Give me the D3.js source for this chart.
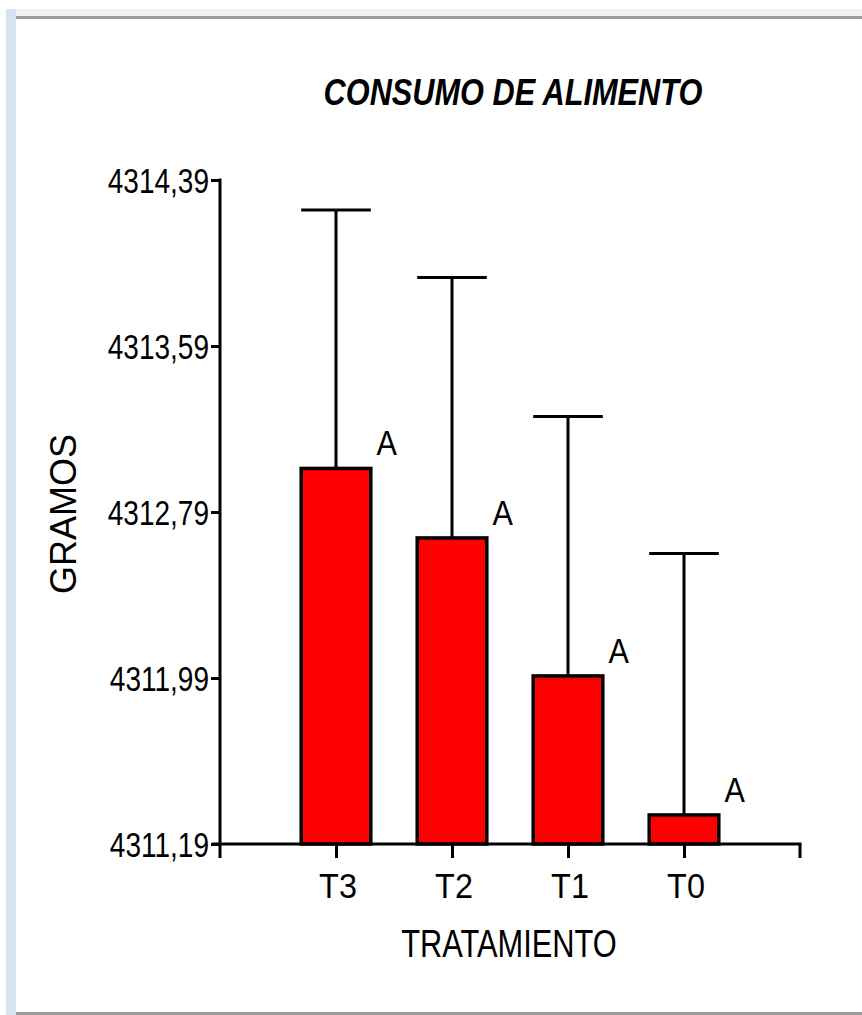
<!DOCTYPE html>
<html>
<head>
<meta charset="utf-8">
<script src="https://cdn.jsdelivr.net/npm/d3@7"></script>
<style>
  body { margin: 0; background: #fff; }
  svg { display: block; }
  text { font-family: "Liberation Sans Narrow", "Liberation Sans", Arial, sans-serif; fill: #000; }
</style>
</head>
<body>
<svg id="chart" width="862" height="1015"></svg>
<script>
// data
var categories = ['T3', 'T2', 'T1', 'T0'];
var means = [4313.00, 4312.665, 4312.00, 4311.33];
var errors = [1.245, 1.255, 1.25, 1.26];
var groupLetters = ['A', 'A', 'A', 'A'];
var yTicks = [4311.19, 4311.99, 4312.79, 4313.59, 4314.39];

var svg = d3.select('#chart');
var W = 862, H = 1015;

// frame of the screenshot
svg.append('rect').attr('x', 6).attr('y', 9).attr('width', 10).attr('height', H - 9).attr('fill', '#d7e3f1');
svg.append('rect').attr('x', 16).attr('y', 9).attr('width', W - 16).attr('height', 7).attr('fill', '#f0f0f0');
svg.append('rect').attr('x', 16).attr('y', 16).attr('width', W - 16).attr('height', 3).attr('fill', '#9b9b9b');
svg.append('rect').attr('x', 16).attr('y', 1012).attr('width', W - 16).attr('height', 3).attr('fill', '#9b9b9b');

// narrow font present? otherwise squeeze the regular one
var probe = svg.append('text').style('font-family', '"Liberation Sans Narrow", "Liberation Sans"').style('font-size', '40px').text('MMMMMM');
var wNarrow = probe.node().getComputedTextLength();
probe.style('font-family', '"Liberation Sans"');
var wReg = probe.node().getComputedTextLength();
probe.remove();
var narrowRatio = wNarrow / wReg;   // ~0.82 if the narrow face exists, 1 if not

// sx = wanted width relative to the regular face
function addText(g, x, y, str, size, anchor, sx, extra) {
    var s = sx / narrowRatio;
    return g.append('text')
        .attr('transform', 'translate(' + x + ',' + y + ')' + (extra || '') + ' scale(' + s + ',1)')
        .attr('text-anchor', anchor)
        .style('font-size', size + 'px')
        .text(str);
}

var x0 = 220, x1 = 800, yTop = 180, yBot = 844;

var x = d3.scalePoint().domain(categories).range([x0, x1]).padding(1);
var y = d3.scaleLinear().domain([yTicks[0], yTicks[yTicks.length - 1]]).range([yBot, yTop]);
var barW = x.step() * 0.6;

var g = svg.append('g');

// error bars (upper only)
g.selectAll('.err').data(categories).enter().append('path')
    .attr('class', 'err')
    .attr('fill', 'none').attr('stroke', '#000').attr('stroke-width', 3)
    .attr('d', function (d, i) {
        var cx = x(d), top = y(means[i] + errors[i]);
        return 'M' + cx + ',' + y(means[i]) + 'V' + top +
            'M' + (cx - barW / 2) + ',' + top + 'H' + (cx + barW / 2);
    });

// bars
g.selectAll('.bar').data(categories).enter().append('rect')
    .attr('class', 'bar')
    .attr('x', function (d) { return x(d) - barW / 2; })
    .attr('y', function (d, i) { return y(means[i]); })
    .attr('width', barW)
    .attr('height', function (d, i) { return yBot - y(means[i]); })
    .attr('fill', '#ff0000').attr('stroke', '#000').attr('stroke-width', 3.5);

// letters
categories.forEach(function (d, i) {
    addText(g, x(d) + barW / 2 + 16, y(means[i]) - 13, groupLetters[i], 36, 'middle', 0.85);
});

// y axis
var yAxis = d3.axisLeft(y).tickValues(yTicks).tickSize(9).tickSizeOuter(0);
var ya = svg.append('g').attr('transform', 'translate(' + x0 + ',0)').call(yAxis);
ya.select('.domain').attr('stroke-width', 3).attr('d', 'M0,' + (yTop - 1.5) + 'V' + yBot);
ya.selectAll('.tick line').attr('stroke-width', 3);
ya.selectAll('.tick text').remove();
yTicks.forEach(function (v) {
    addText(svg, 209, y(v) + 13, v.toFixed(2).replace('.', ','), 35, 'end', 0.8);
});

// x axis
var xAxis = d3.axisBottom(x).tickSize(14).tickSizeOuter(0);
var xa = svg.append('g').attr('transform', 'translate(0,' + yBot + ')').call(xAxis);
xa.select('.domain').attr('stroke-width', 3).attr('d', 'M' + (x0 - 8) + ',0H' + (x1 + 1.5));
xa.selectAll('.tick line').attr('stroke-width', 3);
xa.selectAll('.tick text').remove();
[x0, x1].forEach(function (px) {
    xa.append('line').attr('x1', px).attr('x2', px).attr('y1', 0).attr('y2', 14)
        .attr('stroke', '#000').attr('stroke-width', 3);
});
categories.forEach(function (d) {
    addText(svg, x(d) + 2, 898, d, 36, 'middle', 0.9);
});

// titles
var title = addText(svg, 513, 105, 'CONSUMO DE ALIMENTO', 37, 'middle', 0.83);
title.style('font-weight', 'bold').style('font-style', 'italic');
addText(svg, 509, 957, 'TRATAMIENTO', 39, 'middle', 0.79);
addText(svg, 76, 514, 'GRAMOS', 36, 'middle', 1.0, ' rotate(-90)');
</script>
</body>
</html>
